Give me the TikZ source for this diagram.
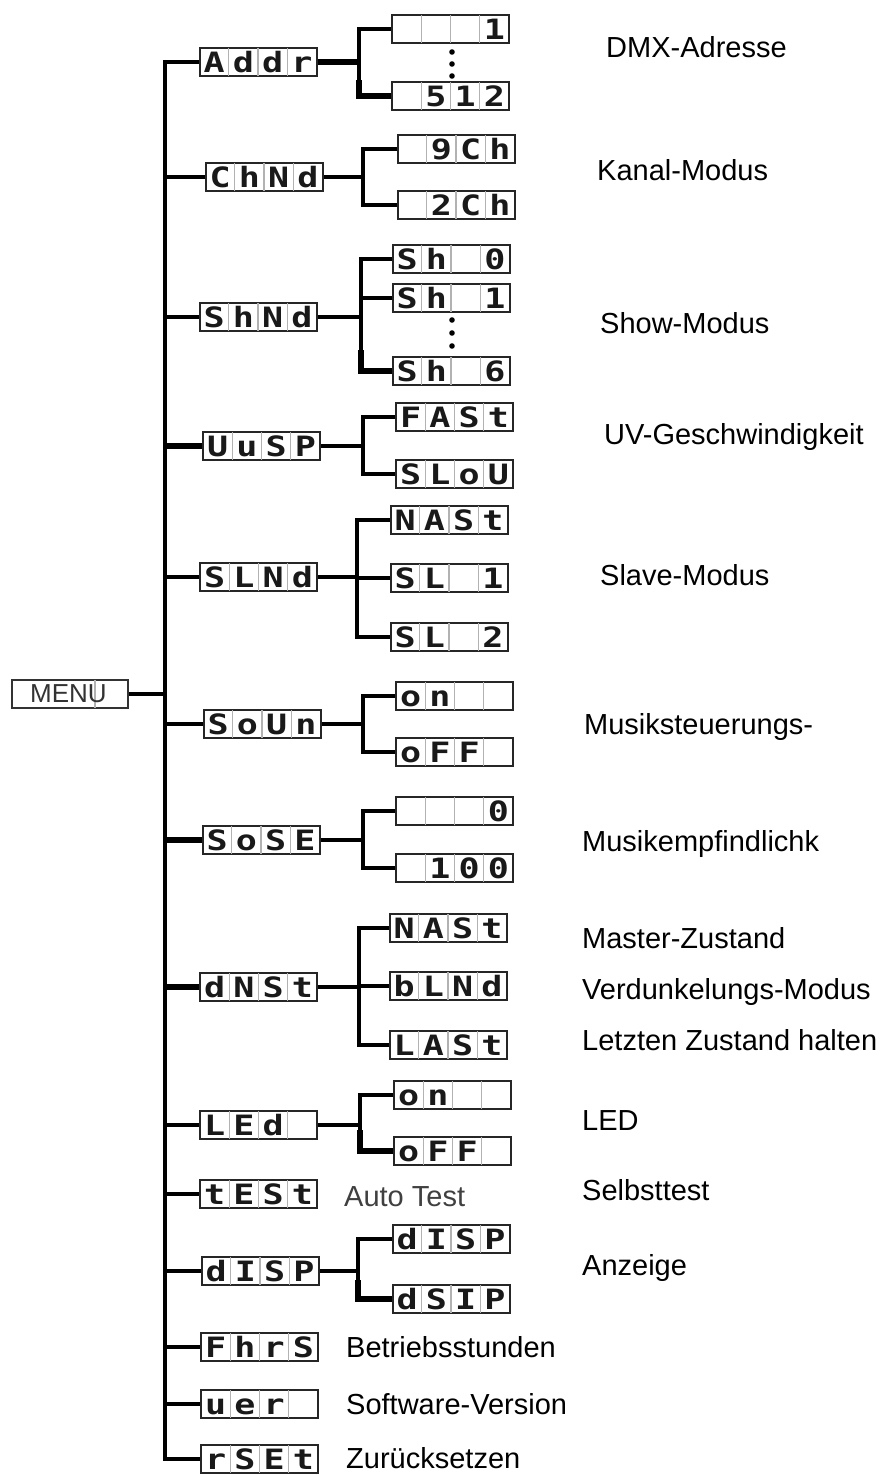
\documentclass[tikz,border=0pt]{standalone}
\usepackage{fontspec}
\usepackage{graphicx}
\setmainfont{Liberation Sans}
\newfontfamily\segfont{DejaVu Sans Mono}

\tikzset{
    wire/.style      = {line width=3.4pt, black},
    thickwire/.style = {line width=5.4pt, black},
    dispbox/.style   = {draw=black!85, line width=2pt, minimum width=117pt,
                        minimum height=28pt, inner sep=0pt},
    celldiv/.style   = {draw=black!30, line width=1.4pt, shorten >=1.2pt, shorten <=1.2pt},
    glyph/.style     = {font=\segfont\bfseries\fontsize{28}{28}\selectfont,
                        inner sep=0pt, anchor=base, text=black!90},
    desc/.style      = {anchor=west, inner sep=0pt, text height=20.8pt, text depth=0pt,
                        font=\fontsize{29}{34}\selectfont},
}

% one 4 digit display: name, x, y, digits
\newcommand{\segdisp}[7]{%
    \node[dispbox] (#1) at (#2,#3) {};
    \draw[celldiv] ([xshift=-29.25pt]#1.north) -- ([xshift=-29.25pt]#1.south);
    \draw[celldiv] (#1.north) -- (#1.south);
    \draw[celldiv] ([xshift=29.25pt]#1.north) -- ([xshift=29.25pt]#1.south);
    \node[glyph] at ([xshift=-43.875pt, yshift=-10.2pt]#1.center) {\scalebox{1.25}[1]{#4}};
    \node[glyph] at ([xshift=-14.625pt, yshift=-10.2pt]#1.center) {\scalebox{1.25}[1]{#5}};
    \node[glyph] at ([xshift=14.625pt, yshift=-10.2pt]#1.center)  {\scalebox{1.25}[1]{#6}};
    \node[glyph] at ([xshift=43.875pt, yshift=-10.2pt]#1.center)  {\scalebox{1.25}[1]{#7}};
}

\begin{document}
\begin{tikzpicture}[x=1pt, y=-1pt]
    \fill[white] (0,0) rectangle (885,1475);
    \useasboundingbox (0,0) rectangle (885,1475);

    % menu
    \node[draw=black!80, line width=2pt, minimum width=116pt, minimum height=28pt,
          inner sep=0pt] (menu) at (70,694) {};
    \draw[celldiv] ([xshift=25pt]menu.north) -- ([xshift=25pt]menu.south);
    \node[inner sep=0pt, text=black!80, font=\fontsize{26}{26}\selectfont] (menutxt)
        at (68.5,694) {MENU};

    % first level
    \segdisp{addr}{258}{62}{A}{d}{d}{r}
    \segdisp{chnd}{264}{177}{C}{h}{N}{d}
    \segdisp{shnd}{258}{317}{S}{h}{N}{d}
    \segdisp{uvsp}{261.5}{446}{U}{u}{S}{P}
    \segdisp{slnd}{258.5}{577}{S}{L}{N}{d}
    \segdisp{soun}{262}{724}{S}{o}{U}{n}
    \segdisp{sose}{261}{840}{S}{o}{S}{E}
    \segdisp{dnst}{258.5}{987}{d}{N}{S}{t}
    \segdisp{led}{258.5}{1125}{L}{E}{d}{}
    \segdisp{test}{258.5}{1194}{t}{E}{S}{t}
    \segdisp{disp}{260}{1271}{d}{I}{S}{P}
    \segdisp{fhrs}{259.5}{1347}{F}{h}{r}{S}
    \segdisp{ver}{259.5}{1404}{u}{e}{r}{}
    \segdisp{rset}{259.5}{1459}{r}{S}{E}{t}

    % second level
    \segdisp{a1}{450.5}{29}{}{}{}{1}
    \segdisp{a512}{450.5}{96}{}{5}{1}{2}
    \segdisp{ch9}{456}{149}{}{9}{C}{h}
    \segdisp{ch2}{456}{205}{}{2}{C}{h}
    \segdisp{sh0}{451}{259}{S}{h}{}{0}
    \segdisp{sh1}{451}{298}{S}{h}{}{1}
    \segdisp{sh6}{451}{371}{S}{h}{}{6}
    \segdisp{fast}{454.5}{417}{F}{A}{S}{t}
    \segdisp{slow}{454.5}{474}{S}{L}{o}{U}
    \segdisp{mast}{449}{520}{N}{A}{S}{t}
    \segdisp{sl1}{449}{578}{S}{L}{}{1}
    \segdisp{sl2}{449}{637}{S}{L}{}{2}
    \segdisp{sndon}{454.5}{696}{o}{n}{}{}
    \segdisp{sndoff}{454.5}{752}{o}{F}{F}{}
    \segdisp{sens0}{454.5}{811}{}{}{}{0}
    \segdisp{sens100}{454.5}{868}{}{1}{0}{0}
    \segdisp{dmast}{448}{928}{N}{A}{S}{t}
    \segdisp{blnd}{448}{986}{b}{L}{N}{d}
    \segdisp{last}{448}{1045}{L}{A}{S}{t}
    \segdisp{ledon}{452.5}{1095}{o}{n}{}{}
    \segdisp{ledoff}{452.5}{1151}{o}{F}{F}{}
    \segdisp{dsp1}{451}{1239}{d}{I}{S}{P}
    \segdisp{dsp2}{451}{1299}{d}{S}{I}{P}

    % trunk
    \coordinate (tx) at (165,0);
    \draw[wire] (addr.west) -| (tx |- rset.west) -- (rset.west);
    \draw[wire] (menu.east) -- (menu.east -| tx);
    \foreach \n in {chnd,shnd,slnd,soun,led,test,disp,fhrs,ver}
        \draw[wire] (\n.west -| tx) -- (\n.west);
    \foreach \n in {uvsp,sose,dnst}
        \draw[thickwire] (\n.west -| tx) -- (\n.west);

    % branches
    \foreach \p/\f/\l/\x in {addr/a1/a512/359, chnd/ch9/ch2/363, shnd/sh0/sh6/361,
                             uvsp/fast/slow/363, slnd/mast/sl2/357, soun/sndon/sndoff/363,
                             sose/sens0/sens100/363, dnst/dmast/last/359,
                             led/ledon/ledoff/360, disp/dsp1/dsp2/358} {
        \coordinate (bar) at (\x,0);
        \draw[wire] (\p.east) -- (bar |- \p.east);
        \draw[wire] (\f.west) -| (bar |- \l.west) -- (\l.west);
    }
    \draw[thickwire] (addr.east) -- (359,62);
    \draw[thickwire] (359,80) |- (a512.west);
    \draw[thickwire] (361,350) |- (sh6.west);
    \draw[wire] (361,298) -- (sh1.west);
    \draw[wire] (357,578) -- (sl1.west);
    \draw[wire] (359,986) -- (blnd.west);
    \draw[thickwire] (360,1130) |- (ledoff.west);
    \draw[thickwire] (358,1280) |- (dsp2.west);

    % dots
    \foreach \y in {52,64,76}    \fill (452,\y) circle (2.8pt);
    \foreach \y in {320,333,346} \fill (452,\y) circle (2.8pt);

    % descriptions
    \node[desc] (ldmx)  at (606,47)   {DMX-Adresse};
    \node[desc] (lkan)  at (597,170)  {Kanal-Modus};
    \node[desc] (lshow) at (600,323)  {Show-Modus};
    \node[desc] (luv)   at (604,434)  {UV-Geschwindigkeit};
    \node[desc] (lslv)  at (600,575)  {Slave-Modus};
    \node[desc] (lmus)  at (584,724)  {Musiksteuerungs-};
    \node[desc] (lsens) at (582,841)  {Musikempfindlichk};
    \node[desc] (lmst)  at (582,938)  {Master-Zustand};
    \node[desc] (ldim)  at (582,989)  {Verdunkelungs-Modus};
    \node[desc] (llast) at (582,1040) {Letzten Zustand halten};
    \node[desc] (lled)  at (582,1120) {LED};
    \node[desc] (lself) at (582,1190) {Selbsttest};
    \node[desc] (lanz)  at (582,1265) {Anzeige};
    \node[desc, text=black!75] (lauto) at (344,1196) {Auto Test};
    \node[desc] (lhrs)  at (346,1347) {Betriebsstunden};
    \node[desc] (lver)  at (346,1404) {Software-Version};
    \node[desc] (lrst)  at (346,1458) {Zurücksetzen};
\end{tikzpicture}
\end{document}
